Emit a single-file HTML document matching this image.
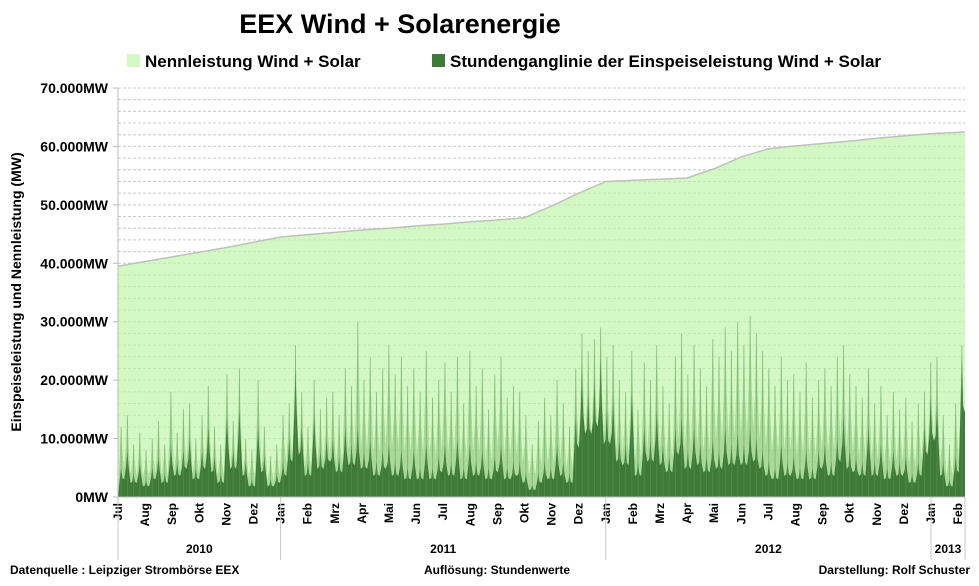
<!DOCTYPE html>
<html><head><meta charset="utf-8"><style>
body{margin:0;background:#fff;width:979px;height:581px;overflow:hidden;font-family:"Liberation Sans",sans-serif}
svg text{font-family:"Liberation Sans",sans-serif;font-weight:bold;fill:#000}
</style></head><body>
<svg id="chart" width="979" height="581" viewBox="0 0 979 581" xmlns="http://www.w3.org/2000/svg">
<text x="400" y="33" font-size="27" text-anchor="middle">EEX  Wind + Solarenergie</text>
<rect x="127" y="54" width="13" height="13" fill="#d3f8c3"/>
<text x="145" y="67" font-size="17">Nennleistung Wind + Solar</text>
<rect x="432" y="54" width="13" height="13" fill="#3f7a3a"/>
<text x="450" y="67" font-size="17">Stundenganglinie der Einspeiseleistung Wind + Solar</text>
<text transform="translate(21,292) rotate(-90)" font-size="14" text-anchor="middle">Einspeiseleistung und Nennleistung (MW)</text>
<g id="grid"></g><g id="areas"></g><g id="axes"></g>
<text x="10" y="574" font-size="12">Datenquelle :  Leipziger Strombörse EEX</text>
<text x="497" y="574" font-size="12" text-anchor="middle">Auflösung: Stundenwerte</text>
<text x="970" y="574" font-size="12" text-anchor="end">Darstellung: Rolf Schuster</text>
</svg>
<script>
const yTicks=[0,10000,20000,30000,40000,50000,60000,70000];
const yTickLabels=["0MW","10.000MW","20.000MW","30.000MW","40.000MW","50.000MW","60.000MW","70.000MW"];
const months=["Jul","Aug","Sep","Okt","Nov","Dez","Jan","Feb","Mrz","Apr","Mai","Jun","Jul","Aug","Sep","Okt","Nov","Dez","Jan","Feb","Mrz","Apr","Mai","Jun","Jul","Aug","Sep","Okt","Nov","Dez","Jan","Feb"];
const years=["2010","2011","2012","2013"];
const yearStartMonth=[0,6,18,30];
const capacity=[39.5,40.3,41.1,41.9,42.7,43.6,44.5,44.9,45.3,45.7,46.0,46.4,46.7,47.1,47.4,47.8,49.8,52.0,54.0,54.2,54.4,54.6,56.2,58.2,59.6,60.1,60.5,60.9,61.4,61.8,62.2,62.4];
const capacityEnd=62.5;
const peakWeekly=[12,14,9,11,8,10,13,9,18,11,15,16,10,14,19,12,9,21,13,22,10,8,20,12,7,9,
14,16,26,18,12,20,15,17,18,14,22,19,30,20,24,18,22,26,21,24,19,22,18,25,17,20,23,18,24,16,25,19,22,15,21,24,17,19,18,14,9,13,17,14,20,16,12,22,28,25,27,
29,24,26,20,18,25,15,23,20,26,19,16,24,28,21,26,22,19,27,24,29,25,30,26,31,28,25,22,19,24,20,21,18,23,17,20,22,19,24,26,21,19,17,22,16,19,14,18,15,17,13,16,
18,23,24,14,9,16,26];
const baseWeekly=[5,8,4,6,3,5,7,4,9,6,8,10,5,8,12,7,4,14,8,15,6,3,12,7,3,4,
6,10,22,12,6,14,8,10,10,7,12,9,12,8,10,6,8,9,6,8,5,8,5,9,5,7,9,6,10,5,9,6,8,5,7,9,5,6,6,4,2,4,6,5,9,6,4,14,22,18,20,
24,15,17,10,9,18,6,12,10,15,9,7,12,14,8,12,9,7,10,8,12,9,11,9,12,10,8,6,5,9,6,7,5,8,5,8,9,6,10,14,8,7,6,12,6,9,5,8,6,7,4,6,
12,17,16,6,3,7,24];

const NS="http://www.w3.org/2000/svg";
const X0=118,X1=965,MW=27.1,Y0=497,YT=88;
const yS=v=>Y0-(v/70000)*(Y0-YT);
const xM=m=>X0+m*MW;
const xW=i=>X0+(i+0.5)*(X1-X0)/peakWeekly.length;
function mk(tag,attrs,parent){const e=document.createElementNS(NS,tag);for(const k in attrs)e.setAttribute(k,attrs[k]);document.getElementById(parent).appendChild(e);return e;}

for(let v=2000;v<=70000;v+=2000){
 const g=mk('line',{x1:X0,x2:X1,y1:yS(v),y2:yS(v),stroke:'#d4d4d4','stroke-width':1,'stroke-dasharray':'3,2'},'grid');
 
 
}
let pts=[[X0,Y0]];
capacity.forEach((c,i)=>pts.push([xM(i),yS(c*1000)]));
pts.push([X1,yS(capacityEnd*1000)]);pts.push([X1,Y0]);
const cap=mk('polygon',{points:pts.map(p=>p.join(',')).join(' '),fill:'#d3f8c3'},'areas');


let lp=[];capacity.forEach((c,i)=>lp.push([xM(i),yS(c*1000)]));lp.push([X1,yS(capacityEnd*1000)]);
const capl=mk('polyline',{points:lp.map(p=>p.join(',')).join(' '),fill:'none',stroke:'#c0c0c0','stroke-width':1.5},'areas');


for(let v=2000;v<=70000;v+=2000){
 const g=mk('line',{x1:X0,x2:X1,y1:yS(v),y2:yS(v),stroke:'#b0c8a8','stroke-width':1,'stroke-dasharray':'3,2',opacity:0.4},'areas');
 
 
}
function spikeArea(arr,fill,op,name,lf){
 const n=arr.length,w=(X1-X0)/n;let p=[[X0,Y0]];
 arr.forEach((v,i)=>{const x=xW(i);const lo=Math.min(v,arr[Math.min(i+1,n-1)])*lf;
  p.push([x-w*0.2,yS(v*650)]);p.push([x,yS(v*1000)]);p.push([x+w*0.2,yS(v*650)]);p.push([x+w*0.5,yS(lo*1000)]);});
 p.push([X1,Y0]);
 const e=mk('polygon',{points:p.map(q=>q[0].toFixed(1)+','+q[1].toFixed(1)).join(' '),fill:fill,opacity:op},'areas');
 
 
}
spikeArea(peakWeekly,'#80bb72',0.5,'einspeisung-peak-area',0.4);
spikeArea(baseWeekly,'#3f7a3a',1,'einspeisung-area',0.6);
peakWeekly.forEach((v,i)=>{
 const l=mk('line',{x1:xW(i),x2:xW(i),y1:Y0,y2:yS(v*1000),stroke:'#5d9a52','stroke-width':1,opacity:0.5},'areas');
 
 
});
const ya=mk('line',{x1:X0,x2:X0,y1:YT,y2:Y0,stroke:'#bbb','stroke-width':1},'axes');


const xa=mk('line',{x1:X0,x2:X1,y1:Y0,y2:Y0,stroke:'#bbb','stroke-width':1},'axes');


yTicks.forEach((v,i)=>{
 const t=mk('text',{x:108,y:yS(v)+5,'font-size':14,'text-anchor':'end'},'axes');t.textContent=yTickLabels[i];
 
 
 const tk=mk('line',{x1:X0-5,x2:X0,y1:yS(v),y2:yS(v),stroke:'#bbb'},'axes');
 
 
});
months.forEach((m,i)=>{
 const x=xM(i);
 const t=mk('text',{transform:`translate(${x+4},${Y0+6}) rotate(-90)`,'font-size':12,'text-anchor':'end'},'axes');t.textContent=m;
 
 
});
const bounds=yearStartMonth.map(m=>xM(m)).concat([X1]);
bounds.forEach(x=>{
 const l=mk('line',{x1:x,x2:x,y1:Y0,y2:560,stroke:'#c8c8c8'},'axes');
 
 
});
years.forEach((y,i)=>{
 const t=mk('text',{x:(bounds[i]+bounds[i+1])/2,y:553,'font-size':12,'text-anchor':'middle'},'axes');t.textContent=y;
 
 
});
</script>
</body></html>
